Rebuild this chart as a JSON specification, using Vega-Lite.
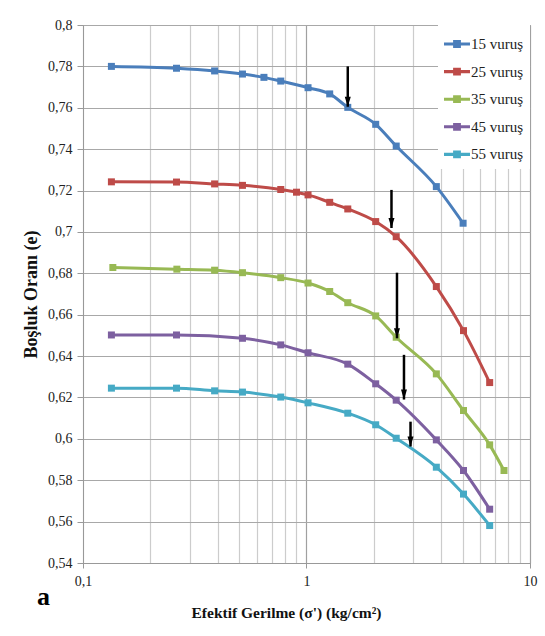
{
  "$schema": "https://vega.github.io/schema/vega-lite/v6.json",
  "width": 447,
  "height": 538,
  "autosize": {"type": "none"},
  "padding": {"left": 83, "top": 25, "right": 15, "bottom": 73},
  "background": "white",
  "title": {"text": "a", "orient": "bottom", "anchor": "start", "frame": "group", "font": "Liberation Serif, Times New Roman, serif", "fontSize": 26, "fontWeight": "bold", "color": "black", "dx": -46, "dy": -41},
  "config": {
    "font": "Liberation Serif, Times New Roman, serif",
    "view": {"stroke": "#999999", "strokeWidth": 1},
    "axis": {"labelFont": "Liberation Serif, Times New Roman, serif", "labelFontSize": 14, "labelColor": "#222222", "titleFont": "Liberation Serif, Times New Roman, serif", "titleFontWeight": "bold", "titleColor": "#111111", "domainColor": "#999999", "tickColor": "#999999", "labelFlush": false},
    "legend": {"orient": "top-right", "offset": 0, "padding": 6, "fillColor": "white", "labelFont": "Liberation Serif, Times New Roman, serif", "labelFontSize": 15, "labelColor": "#222222", "rowPadding": 6.6, "labelOffset": 1}
  },
  "datasets": {
    "curves": [
      {"s": "15 vuruş", "x": 0.134, "e": 0.7800},
      {"s": "15 vuruş", "x": 0.262, "e": 0.7791},
      {"s": "15 vuruş", "x": 0.388, "e": 0.7778},
      {"s": "15 vuruş", "x": 0.517, "e": 0.7763},
      {"s": "15 vuruş", "x": 0.645, "e": 0.7747},
      {"s": "15 vuruş", "x": 0.767, "e": 0.7729},
      {"s": "15 vuruş", "x": 1.016, "e": 0.7697},
      {"s": "15 vuruş", "x": 1.27, "e": 0.7667},
      {"s": "15 vuruş", "x": 1.53, "e": 0.7602},
      {"s": "15 vuruş", "x": 2.04, "e": 0.7520},
      {"s": "15 vuruş", "x": 2.52, "e": 0.7415},
      {"s": "15 vuruş", "x": 3.81, "e": 0.7219},
      {"s": "15 vuruş", "x": 5.02, "e": 0.7042},
      {"s": "25 vuruş", "x": 0.134, "e": 0.7242},
      {"s": "25 vuruş", "x": 0.262, "e": 0.7241},
      {"s": "25 vuruş", "x": 0.388, "e": 0.7232},
      {"s": "25 vuruş", "x": 0.517, "e": 0.7225},
      {"s": "25 vuruş", "x": 0.767, "e": 0.7205},
      {"s": "25 vuruş", "x": 0.902, "e": 0.7192},
      {"s": "25 vuruş", "x": 1.016, "e": 0.7179},
      {"s": "25 vuruş", "x": 1.27, "e": 0.7143},
      {"s": "25 vuruş", "x": 1.53, "e": 0.7111},
      {"s": "25 vuruş", "x": 2.04, "e": 0.7050},
      {"s": "25 vuruş", "x": 2.52, "e": 0.6977},
      {"s": "25 vuruş", "x": 3.81, "e": 0.6736},
      {"s": "25 vuruş", "x": 5.04, "e": 0.6523},
      {"s": "25 vuruş", "x": 6.6, "e": 0.6272},
      {"s": "35 vuruş", "x": 0.136, "e": 0.6828},
      {"s": "35 vuruş", "x": 0.263, "e": 0.6820},
      {"s": "35 vuruş", "x": 0.388, "e": 0.6815},
      {"s": "35 vuruş", "x": 0.517, "e": 0.6803},
      {"s": "35 vuruş", "x": 0.767, "e": 0.6779},
      {"s": "35 vuruş", "x": 1.016, "e": 0.6753},
      {"s": "35 vuruş", "x": 1.27, "e": 0.6712},
      {"s": "35 vuruş", "x": 1.53, "e": 0.6658},
      {"s": "35 vuruş", "x": 2.04, "e": 0.6594},
      {"s": "35 vuruş", "x": 2.52, "e": 0.6491},
      {"s": "35 vuruş", "x": 3.81, "e": 0.6314},
      {"s": "35 vuruş", "x": 5.04, "e": 0.6137},
      {"s": "35 vuruş", "x": 6.6, "e": 0.5971},
      {"s": "35 vuruş", "x": 7.65, "e": 0.5847},
      {"s": "45 vuruş", "x": 0.134, "e": 0.6502},
      {"s": "45 vuruş", "x": 0.262, "e": 0.6502},
      {"s": "45 vuruş", "x": 0.517, "e": 0.6486},
      {"s": "45 vuruş", "x": 0.767, "e": 0.6454},
      {"s": "45 vuruş", "x": 1.016, "e": 0.6416},
      {"s": "45 vuruş", "x": 1.53, "e": 0.6361},
      {"s": "45 vuruş", "x": 2.04, "e": 0.6266},
      {"s": "45 vuruş", "x": 2.52, "e": 0.6187},
      {"s": "45 vuruş", "x": 3.81, "e": 0.5995},
      {"s": "45 vuruş", "x": 5.04, "e": 0.5847},
      {"s": "45 vuruş", "x": 6.6, "e": 0.5660},
      {"s": "55 vuruş", "x": 0.134, "e": 0.6245},
      {"s": "55 vuruş", "x": 0.262, "e": 0.6245},
      {"s": "55 vuruş", "x": 0.388, "e": 0.6232},
      {"s": "55 vuruş", "x": 0.517, "e": 0.6226},
      {"s": "55 vuruş", "x": 0.767, "e": 0.6202},
      {"s": "55 vuruş", "x": 1.016, "e": 0.6174},
      {"s": "55 vuruş", "x": 1.53, "e": 0.6124},
      {"s": "55 vuruş", "x": 2.04, "e": 0.6068},
      {"s": "55 vuruş", "x": 2.52, "e": 0.6003},
      {"s": "55 vuruş", "x": 3.81, "e": 0.5863},
      {"s": "55 vuruş", "x": 5.04, "e": 0.5733},
      {"s": "55 vuruş", "x": 6.6, "e": 0.5581}
    ],
    "arrows": [
      {"x": 1.53, "top": 0.7800, "tip": 0.7605},
      {"x": 2.40, "top": 0.7203, "tip": 0.7019},
      {"x": 2.54, "top": 0.6803, "tip": 0.6486},
      {"x": 2.73, "top": 0.6406, "tip": 0.6190},
      {"x": 2.92, "top": 0.6083, "tip": 0.5963}
    ]
  },
  "layer": [
    {
      "data": {"name": "curves"},
      "mark": {"type": "line", "interpolate": "monotone", "strokeWidth": 3},
      "encoding": {
        "x": {"field": "x", "type": "quantitative",
          "scale": {"type": "log", "domain": [0.1, 10], "nice": false, "padding": 0},
          "axis": {"title": "Efektif Gerilme (σ') (kg/cm²)", "titleFontSize": 15.5, "titlePadding": 17, "titleX": 203,
            "values": [0.1,0.2,0.3,0.4,0.5,0.6,0.7,0.8,0.9,1,2,3,4,5,6,7,8,9,10],
            "labelExpr": "datum.value == 0.1 ? '0,1' : datum.value == 1 ? '1' : datum.value == 10 ? '10' : ''",
            "labelPadding": 6, "tickSize": 5,
            "tickOpacity": {"condition": {"test": "datum.value == 0.1 || datum.value == 1 || datum.value == 10", "value": 1}, "value": 0},
            "grid": true,
            "gridColor": {"condition": {"test": "datum.value == 1 || datum.value == 10", "value": "#a0a0a0"}, "value": "#cccccc"},
            "gridWidth": 1.2}},
        "y": {"field": "e", "type": "quantitative",
          "scale": {"domain": [0.54, 0.8], "nice": false, "zero": false},
          "axis": {"title": "Boşluk Oranı (e)", "titleFontSize": 18, "titlePadding": 7,
            "values": [0.54,0.56,0.58,0.6,0.62,0.64,0.66,0.68,0.7,0.72,0.74,0.76,0.78,0.8],
            "labelExpr": "replace(format(datum.value, '.2~f'), '.', ',')",
            "labelPadding": 5, "tickSize": 6,
            "grid": true, "gridColor": "#a8a8a8", "gridWidth": 1.2}},
        "color": {"field": "s", "type": "nominal",
          "scale": {"domain": ["15 vuruş", "25 vuruş", "35 vuruş", "45 vuruş", "55 vuruş"],
            "range": ["#4a7ebb", "#be4b48", "#98b954", "#7d60a0", "#46aac5"]},
          "legend": {"title": null, "symbolType": "M-1,-0.12L1,-0.12L1,0.12L-1,0.12Z M-0.3,-0.3L0.3,-0.3L0.3,0.3L-0.3,0.3Z", "symbolSize": 676, "symbolStrokeWidth": 0}}
      }
    },
    {
      "data": {"name": "curves"},
      "mark": {"type": "point", "shape": "square", "filled": true, "size": 49, "opacity": 1},
      "encoding": {
        "x": {"field": "x", "type": "quantitative"},
        "y": {"field": "e", "type": "quantitative"},
        "color": {"field": "s", "type": "nominal"}
      }
    },
    {
      "data": {"name": "arrows"},
      "mark": {"type": "rule", "color": "black", "strokeWidth": 2.5},
      "encoding": {
        "x": {"field": "x", "type": "quantitative"},
        "y": {"field": "top", "type": "quantitative"},
        "y2": {"field": "tip"}
      }
    },
    {
      "data": {"name": "arrows"},
      "mark": {"type": "point", "shape": "M-0.6,-2L0.6,-2L0,0Z", "filled": true, "color": "black", "size": 100, "opacity": 1},
      "encoding": {
        "x": {"field": "x", "type": "quantitative"},
        "y": {"field": "tip", "type": "quantitative"}
      }
    }
  ]
}
